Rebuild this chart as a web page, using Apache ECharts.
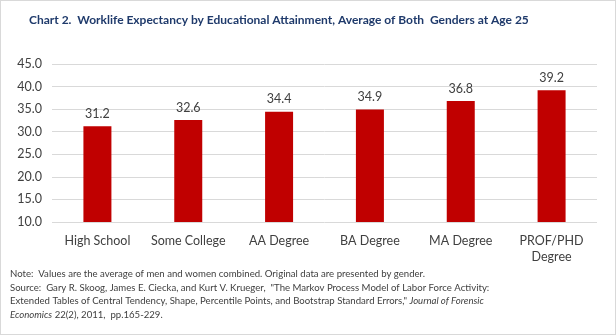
<!DOCTYPE html>
<html><head><meta charset="utf-8">
<script src="https://cdn.jsdelivr.net/npm/echarts@6/dist/echarts.min.js"></script>
<style>html,body{margin:0;padding:0;background:#fff}#c{width:616px;height:335px;box-sizing:border-box;border:1px solid #D9D9D9}</style>
</head><body><div id="c"></div>
<script>
const categories = ['High School', 'Some College', 'AA Degree', 'BA Degree', 'MA Degree', 'PROF/PHD\nDegree'];
const values = [31.2, 32.6, 34.4, 34.9, 36.8, 39.2];
const yTicks = [10, 15, 20, 25, 30, 35, 40, 45];
const title = 'Chart 2.  Worklife Expectancy by Educational Attainment, Average of Both  Genders at Age 25';
const noteLines = [
  'Note:  Values are the average of men and women combined. Original data are presented by gender.',
  'Source:  Gary R. Skoog, James E. Ciecka, and Kurt V. Krueger,  "The Markov Process Model of Labor Force Activity:',
  'Extended Tables of Central Tendency, Shape, Percentile Points, and Bootstrap Standard Errors," {i|Journal of Forensic}',
  '{i|Economics} 22(2), 2011,  pp.165-229.'
];
const chart = echarts.init(document.getElementById('c'));
const font = 'Lato, "Open Sans", sans-serif';
chart.setOption({
  animation: false,
  title: {
    text: title, left: 23, top: 8,
    textStyle: {fontFamily: font, fontSize: 12, fontWeight: 'bold', color: '#1F3A6B'}
  },
  grid: {left: 51, right: 18, top: 63, bottom: 112, containLabel: false},
  xAxis: {
    type: 'category', data: categories,
    axisLine: {show: false}, axisTick: {show: false},
    axisLabel: {interval: 0, fontFamily: font, fontSize: 12.5, color: '#404040', margin: 11, lineHeight: 16}
  },
  yAxis: {
    type: 'value', min: yTicks[0], max: yTicks[yTicks.length - 1], interval: 5,
    axisLine: {show: false}, axisTick: {show: false},
    splitLine: {lineStyle: {color: '#D9D9D9', width: 1}},
    axisLabel: {fontFamily: font, fontSize: 12.5, color: '#404040', margin: 10, formatter: v => v.toFixed(1)}
  },
  series: [{
    type: 'bar', data: values, barWidth: 28,
    itemStyle: {color: '#C00000'},
    label: {show: true, position: 'top', distance: 6, fontFamily: font, fontSize: 12.5, color: '#404040', formatter: p => p.value.toFixed(1)}
  }],
  graphic: noteLines.map((t, i) => ({
    type: 'text', left: 9, top: 268 + i * 13.5,
    style: {
      text: t, fontFamily: font, fontSize: 9.6, fill: '#404040',
      rich: {i: {fontStyle: 'italic', fontFamily: font, fontSize: 9.6, fill: '#404040'}}
    }
  }))
});
</script></body></html>
